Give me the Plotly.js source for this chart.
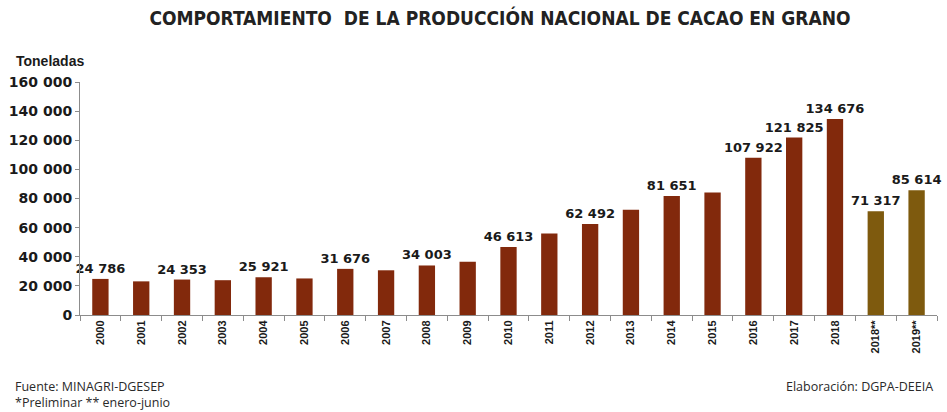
<!DOCTYPE html>
<html>
<head>
<meta charset="utf-8">
<script src="https://cdn.plot.ly/plotly-3.0.1.min.js"></script>
<style>html,body{margin:0;padding:0;background:#fff}#chart{width:947px;height:412px}</style>
</head>
<body>
<div id="chart"></div>
<script>
var categories = ["2000","2001","2002","2003","2004","2005","2006","2007","2008","2009","2010","2011","2012","2013","2014","2015","2016","2017","2018","2018**","2019**"];
var values = [24786, 23100, 24353, 23900, 25921, 25100, 31676, 30700, 34003, 36500, 46613, 56000, 62492, 72300, 81651, 84200, 107922, 121825, 134676, 71317, 85614];
var showLabel = [1,0,1,0,1,0,1,0,1,0,1,0,1,0,1,0,1,1,1,1,1];
var barColors = ["#82290C","#82290C","#82290C","#82290C","#82290C","#82290C","#82290C","#82290C","#82290C","#82290C","#82290C","#82290C","#82290C","#82290C","#82290C","#82290C","#82290C","#82290C","#82290C","#7E5A0E","#7E5A0E"];
var yTicks = [0,20000,40000,60000,80000,100000,120000,140000,160000];

function fmt(v){ return String(v).replace(/\B(?=(\d{3})+(?!\d))/g, " "); }

var labels = values.map(function(v,i){ return showLabel[i] ? fmt(v) + "<br> " : ""; });

var trace = {
  type: "bar",
  x: categories,
  y: values,
  marker: {color: barColors},
  text: values.map(function(v,i){ return showLabel[i] ? fmt(v) : ""; }),
  textposition: "outside",
  constraintext: "none",
  cliponaxis: false,
  textfont: {family: "DejaVu Sans", size: 13, color: "#1a1a1a", weight: "bold"},
  hoverinfo: "x+y"
};

var layout = {
  width: 947, height: 412,
  margin: {l: 80, r: 10, t: 82, b: 97},
  paper_bgcolor: "#fff", plot_bgcolor: "#fff",
  showlegend: false,
  bargap: 0.6,
  separators: ", ",
  title: {text: "COMPORTAMIENTO  DE LA PRODUCCIÓN NACIONAL DE CACAO EN GRANO",
          font: {family: "Liberation Sans Narrow, DejaVu Sans Condensed, Liberation Sans", size: 19, color: "#222", weight: "bold"},
          x: 0.528, xanchor: "center", y: 0.955, yanchor: "middle"},
  xaxis: {
    type: "category",
    tickangle: -90,
    tickfont: {family: "Liberation Sans", size: 11, color: "#1a1a1a", weight: "bold"},
    showline: true, linecolor: "#8c8c8c", linewidth: 1,
    ticks: "outside", tickson: "boundaries", ticklen: 5, tickcolor: "#8c8c8c",
    showgrid: false, zeroline: false
  },
  yaxis: {
    range: [0, 160000],
    tickvals: yTicks,
    ticktext: yTicks.map(fmt),
    tickfont: {family: "DejaVu Sans", size: 14, color: "#1a1a1a", weight: "bold"},
    showline: true, linecolor: "#8c8c8c", linewidth: 1,
    ticks: "outside", ticklen: 4, tickcolor: "#8c8c8c",
    showgrid: false, zeroline: false
  },
  annotations: [
    {text: "Toneladas", xref: "paper", yref: "paper", x: -0.077, y: 1.09, xanchor: "left", yanchor: "middle", showarrow: false,
     font: {family: "Liberation Sans", size: 14, color: "#1a1a1a", weight: "bold"}},
    {text: "Fuente: MINAGRI-DGESEP", xref: "paper", yref: "paper", x: -0.078, y: -0.308, xanchor: "left", yanchor: "middle", showarrow: false,
     font: {family: "Open Sans", size: 12.5, color: "#2a2a2a"}},
    {text: "*Preliminar ** enero-junio", xref: "paper", yref: "paper", x: -0.078, y: -0.375, xanchor: "left", yanchor: "middle", showarrow: false,
     font: {family: "Open Sans", size: 12.5, color: "#2a2a2a"}},
    {text: "Elaboración: DGPA-DEEIA", xref: "paper", yref: "paper", x: 0.998, y: -0.308, xanchor: "right", yanchor: "middle", showarrow: false,
     font: {family: "Open Sans", size: 12.5, color: "#2a2a2a"}}
  ]
};

Plotly.newPlot("chart", [trace], layout, {displayModeBar: false, staticPlot: true});
</script>
</body>
</html>
